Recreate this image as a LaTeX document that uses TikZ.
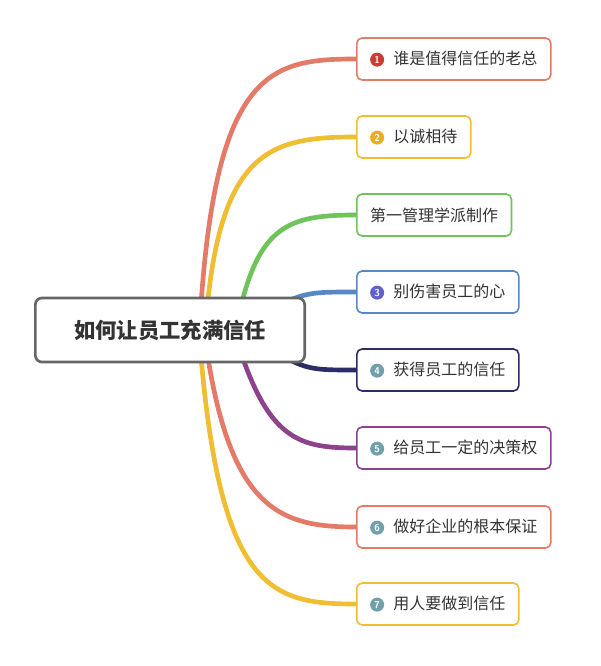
\documentclass[tikz,border=0pt]{standalone}
\usepackage{fontspec}
\newfontfamily\cjk{Noto Sans CJK SC}
\definecolor{cRed}{RGB}{228,122,104}
\definecolor{cYel}{RGB}{240,190,50}
\definecolor{cGrn}{RGB}{110,196,90}
\definecolor{cBlu}{RGB}{86,136,196}
\definecolor{cNav}{RGB}{44,44,104}
\definecolor{cPur}{RGB}{140,66,140}
\definecolor{mRed}{RGB}{200,62,52}
\definecolor{mYel}{RGB}{236,172,32}
\definecolor{mBlu}{RGB}{96,96,204}
\definecolor{mTea}{RGB}{112,160,172}
\tikzset{
  topic/.style={draw=#1, line width=1.2pt, rounded corners=4pt, fill=white,
    minimum height=31.5pt, anchor=west, inner xsep=10pt, font=\cjk\fontsize{12}{14}\selectfont, text=black!80},
  root/.style={draw=gray!80!black, line width=2pt, rounded corners=5pt, fill=white,
    minimum width=202pt, minimum height=48pt, font=\cjk\bfseries\fontsize{16}{19}\selectfont, text=black!80},
  mark/.style={circle, fill=#1, inner sep=0pt, minimum size=10.5pt, text=white,
    font=\sffamily\bfseries\fontsize{7.5}{8}\selectfont},
  branch/.style={draw=#1, line width=3.5pt, line cap=round}
}
\newcommand{\mk}[2]{\tikz[baseline=-0.6ex]\node[mark=#1]{#2};\hspace{7pt}}
\begin{document}
\begin{tikzpicture}[x=0.75pt,y=-0.75pt]
\useasboundingbox (0,0) rectangle (600,666);
% branches
\draw[branch=cRed] (200,320) .. controls (215,70) and (270,59) .. (356,59);
\draw[branch=cYel] (206,320) .. controls (220,150) and (270,137) .. (356,137);
\draw[branch=cGrn] (240,310) .. controls (260,225) and (290,215) .. (356,215);
\draw[branch=cBlu] (290,300) .. controls (310,292) and (320,292) .. (356,292);
\draw[branch=cNav] (290,360) .. controls (310,370) and (320,370) .. (356,370);
\draw[branch=cPur] (240,350) .. controls (270,440) and (300,448) .. (356,448);
\draw[branch=cRed] (206,345) .. controls (230,510) and (280,527) .. (356,527);
\draw[branch=cYel] (200,345) .. controls (220,590) and (270,604) .. (356,604);
% center
\node[root] (center) at (170,330) {如何让员工充满信任};
% topics
\node[topic=cRed] (t1) at (356,59) {\mk{mRed}{1}谁是值得信任的老总};
\node[topic=cYel] (t2) at (356,137) {\mk{mYel}{2}以诚相待};
\node[topic=cGrn] (t3) at (356,215) {第一管理学派制作};
\node[topic=cBlu] (t4) at (356,292) {\mk{mBlu}{3}别伤害员工的心};
\node[topic=cNav] (t5) at (356,370) {\mk{mTea}{4}获得员工的信任};
\node[topic=cPur] (t6) at (356,448) {\mk{mTea}{5}给员工一定的决策权};
\node[topic=cRed] (t7) at (356,527) {\mk{mTea}{6}做好企业的根本保证};
\node[topic=cYel] (t8) at (356,604) {\mk{mTea}{7}用人要做到信任};
\end{tikzpicture}
\end{document}
